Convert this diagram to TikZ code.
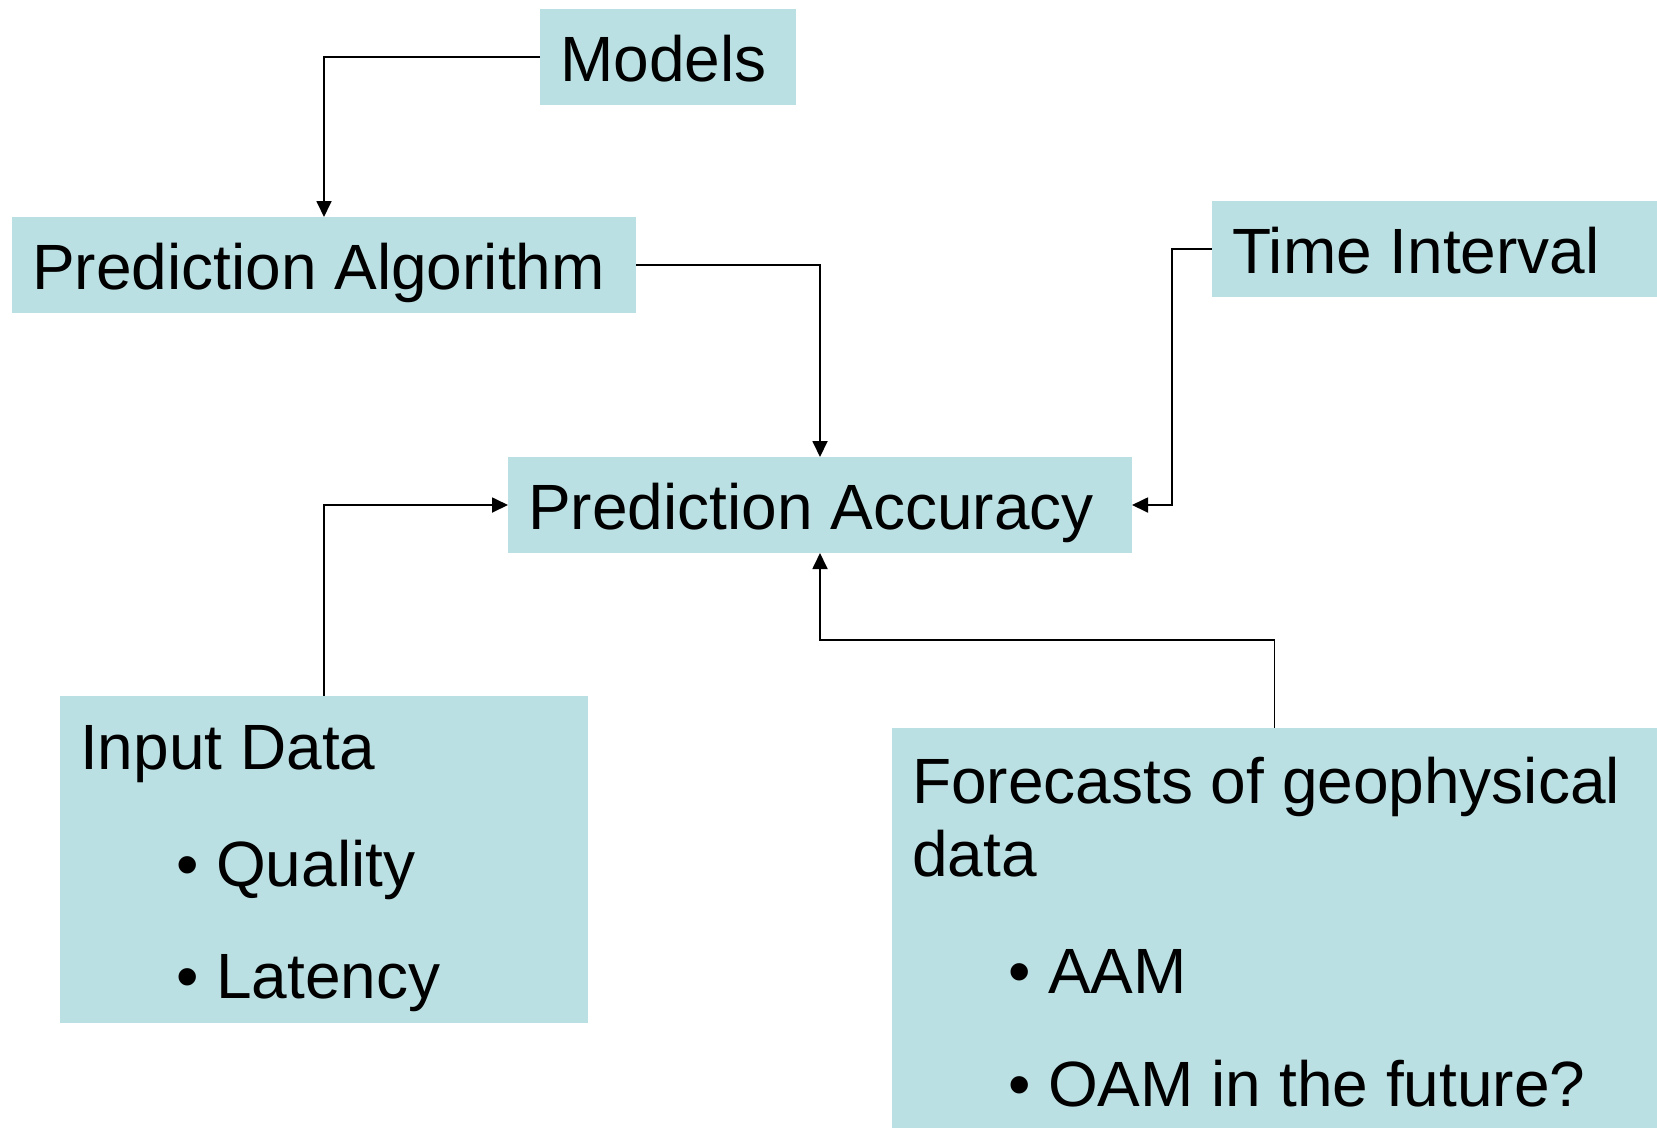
\documentclass[tikz,border=0pt]{standalone}
\usepackage{fontspec}
\setmainfont{Liberation Sans}
\usetikzlibrary{arrows.meta}
\definecolor{boxfill}{RGB}{187,224,227}
\begin{document}
\begin{tikzpicture}[x=1pt,y=-1pt,
  box/.style={draw=none, fill=boxfill, inner sep=0pt, outer sep=0pt, anchor=north west},
  lbl/.style={anchor=base west, inner sep=0pt, font=\fontsize{64}{72}\selectfont},
  link/.style={line width=1.8pt, -{Triangle[width=15pt,length=16pt]}}]
\useasboundingbox (0,0) rectangle (1657,1128);

% boxes
\node[box, minimum width=256pt, minimum height=96pt] (models) at (540,9) {};
\node[box, minimum width=624pt, minimum height=96pt] (algo)   at (12,217) {};
\node[box, minimum width=445pt, minimum height=96pt] (interval) at (1212,201) {};
\node[box, minimum width=624pt, minimum height=96pt] (accuracy) at (508,457) {};
\node[box, minimum width=528pt, minimum height=327pt] (input) at (60,696) {};
\node[box, minimum width=765pt, minimum height=400pt] (forecast) at (892,728) {};

% labels
\node[lbl] (modelsT)   at (560,81)   {Models};
\node[lbl] (algoT)     at (32,289)   {Prediction Algorithm};
\node[lbl] (intervalT) at (1232,273) {Time Interval};
\node[lbl] (accuracyT) at (528,529)  {Prediction Accuracy};

\node[lbl] (inputT)    at (80,769)   {Input Data};
\node[lbl] (inputA)    at (176,886)  {\makebox[40pt][l]{•}Quality};
\node[lbl] (inputB)    at (176,998)  {\makebox[40pt][l]{•}Latency};

\node[lbl] (fcT1)      at (912,803)  {Forecasts of geophysical};
\node[lbl] (fcT2)      at (912,876)  {data};
\node[lbl] (fcA)       at (1008,993) {\makebox[40pt][l]{•}AAM};
\node[lbl] (fcB)       at (1008,1106) {\makebox[40pt][l]{•}OAM in the future?};

% connectors
\draw[link] (models.west) -| (algo.north);
\draw[link] (algo.east) -| (accuracy.north);
\draw[link] (interval.west) -- ++(-40,0) |- (accuracy.east);
\draw[link] (input.north) |- (accuracy.west);
\draw[link] (forecast.north) -- ++(0,-88) -| (accuracy.south);
\end{tikzpicture}
\end{document}
